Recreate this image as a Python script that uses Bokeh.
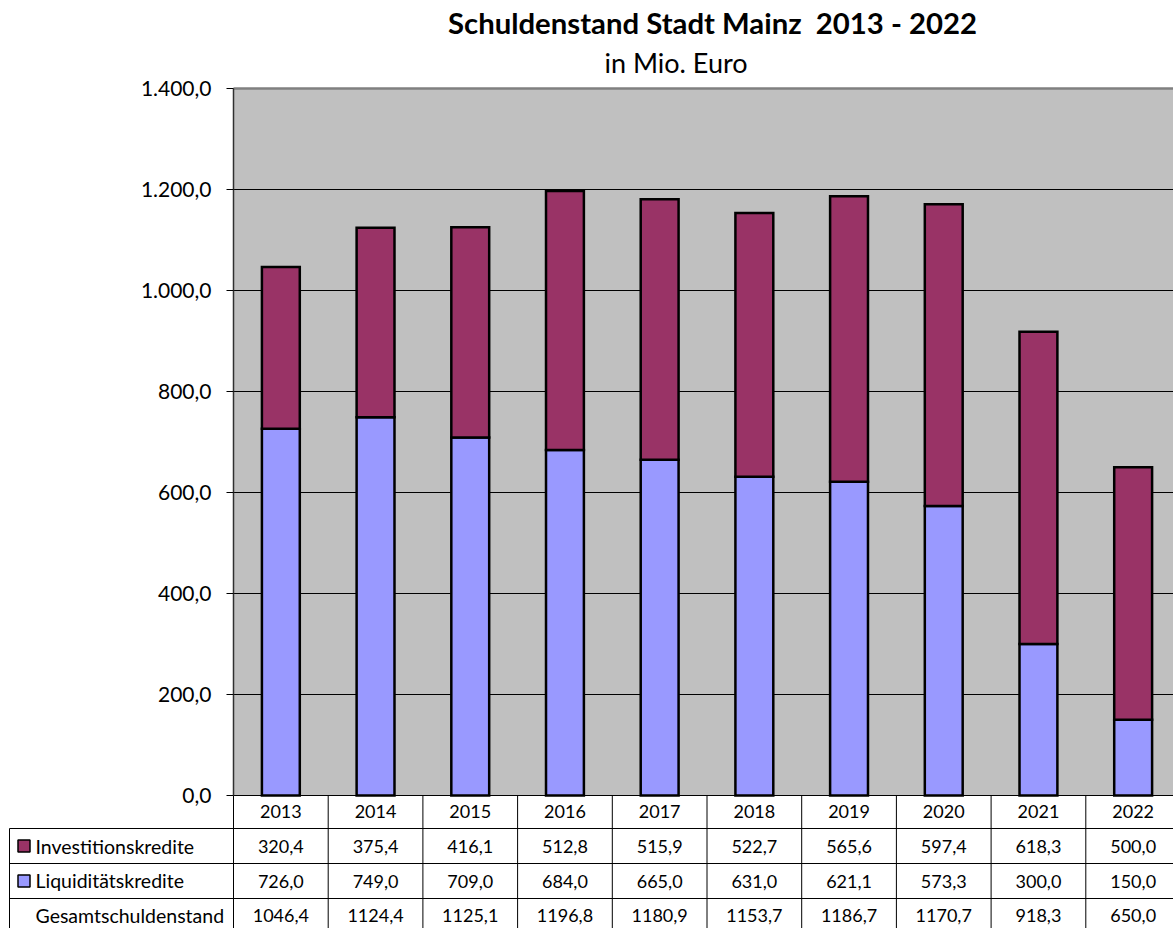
import numpy as np
from bokeh.plotting import figure
from bokeh.models import Range1d, LinearAxis, FixedTicker
from bokeh.core.properties import value
from bokeh.embed import file_html
from bokeh.resources import INLINE

# ---------------- data ----------------
years = ["2013", "2014", "2015", "2016", "2017", "2018", "2019", "2020", "2021", "2022"]
investitionskredite = [320.4, 375.4, 416.1, 512.8, 515.9, 522.7, 565.6, 597.4, 618.3, 500.0]
liquiditaetskredite = [726.0, 749.0, 709.0, 684.0, 665.0, 631.0, 621.1, 573.3, 300.0, 150.0]
gesamtschuldenstand = [1046.4, 1124.4, 1125.1, 1196.8, 1180.9, 1153.7, 1186.7, 1170.7, 918.3, 650.0]
y_ticks = [0, 200, 400, 600, 800, 1000, 1200, 1400]
row_labels = ["Investitionskredite", "Liquiditätskredite", "Gesamtschuldenstand"]
title_text = "Schuldenstand Stadt Mainz \u00a02013 - 2022"
subtitle_text = "in Mio. Euro"

C_INV = "#993366"
C_LIQ = "#9999FF"
FONT = "Lato"


def de(v, thousands=False):
    s = f"{v:,.1f}" if thousands else f"{v:.1f}"
    return s.replace(",", "X").replace(".", ",").replace("X", ".")


# ---------------- geometry (page pixels) ----------------
W, H, OFF = 1173, 928, 0
PLOT_L, PLOT_T, ZERO_Y = 233.0, 88.0, 795.0
COL_W = 94.7
PPU = (ZERO_Y - PLOT_T) / y_ticks[-1]
n = len(years)
idx = np.arange(n)


def X(px):
    return -0.5 + (px - PLOT_L) / COL_W


def Y(py):
    return (ZERO_Y - py) / PPU


def YB(py, size):
    # baseline position, corrected for the renderer's text placement
    return Y(py - 0.38 * size)


x_range = Range1d(X(OFF), X(OFF + W))
y_range = Range1d(Y(OFF + H), Y(OFF))

p = figure(width=W, height=H, x_range=x_range, y_range=y_range,
           output_backend="svg", toolbar_location=None,
           x_axis_location=None, y_axis_location=None,
           min_border=0, min_border_left=0, min_border_right=0,
           min_border_top=0, min_border_bottom=0)
p.outline_line_color = None
p.background_fill_color = "white"
p.border_fill_color = "white"
p.grid.visible = False

right_end = -0.5 + n

# plot area background
p.quad(left=-0.5, right=right_end, bottom=y_ticks[0], top=y_ticks[-1],
       fill_color="#C0C0C0", line_color=None)
# gridlines
p.segment(x0=[-0.5] * (len(y_ticks) - 2), x1=[right_end] * (len(y_ticks) - 2),
          y0=y_ticks[1:-1], y1=y_ticks[1:-1], line_color="black", line_width=1)
p.segment(x0=[-0.5], x1=[right_end], y0=[y_ticks[-1]], y1=[y_ticks[-1]],
          line_color="#808080", line_width=2.5)

# bars
liq = np.array(liquiditaetskredite)
inv = np.array(investitionskredite)
p.vbar(x=idx, width=0.4, bottom=0, top=liq, fill_color=C_LIQ,
       line_color="black", line_width=2.5, line_join="miter")
p.vbar(x=idx, width=0.4, bottom=liq, top=liq + inv, fill_color=C_INV,
       line_color="black", line_width=2.5, line_join="miter")

# y axis
yaxis = LinearAxis(fixed_location=-0.5, bounds=(y_ticks[0], y_ticks[-1]),
                   ticker=FixedTicker(ticks=y_ticks),
                   major_label_overrides={t: de(t, True) for t in y_ticks})
yaxis.major_tick_out = 7
yaxis.major_tick_in = 0
yaxis.minor_tick_out = 0
yaxis.minor_tick_in = 0
yaxis.axis_line_color = "#303030"
yaxis.axis_line_width = 1.5
yaxis.major_tick_line_color = "black"
yaxis.major_label_text_font = FONT
yaxis.major_label_text_font_size = "21px"
yaxis.major_label_text_color = "black"
yaxis.major_label_standoff = 15
p.add_layout(yaxis, "left")

# x axis (year row of table)
xaxis = LinearAxis(fixed_location=0, bounds=(-0.5, right_end),
                   ticker=FixedTicker(ticks=list(idx)),
                   major_label_overrides={int(i): y for i, y in zip(idx, years)})
xaxis.major_tick_out = 0
xaxis.major_tick_in = 0
xaxis.minor_tick_out = 0
xaxis.minor_tick_in = 0
xaxis.axis_line_color = "black"
xaxis.axis_line_width = 1
xaxis.major_label_text_font = FONT
xaxis.major_label_text_font_size = "18px"
xaxis.major_label_text_color = "black"
xaxis.major_label_standoff = 9
p.add_layout(xaxis, "below")

# table lines
row_lines = [Y(828), Y(863), Y(898)]
p.segment(x0=[X(9)] * 3, x1=[right_end] * 3, y0=row_lines, y1=row_lines,
          line_color="black", line_width=1)
col_x = [-0.5 + k for k in range(n)]
p.segment(x0=col_x, x1=col_x, y0=[0] * n, y1=[Y(OFF + H)] * n,
          line_color="black", line_width=1)
p.segment(x0=[X(9)], x1=[X(9)], y0=[Y(828)], y1=[Y(OFF + H)],
          line_color="black", line_width=1)

# table values
VAL_FS = 18
LAB_FS = 19.5
base_px = [853, 887.5, 922]
for vals, b in zip([investitionskredite, liquiditaetskredite, gesamtschuldenstand], base_px):
    p.text(x=idx, y=[YB(b, VAL_FS)] * n, text=[de(v) for v in vals],
           text_align="center", text_baseline="alphabetic",
           text_font=value(FONT), text_font_size=f"{VAL_FS}px", text_color="black")

# row labels
p.text(x=[X(35)] * 3, y=[YB(b, LAB_FS) for b in base_px], text=row_labels,
       text_align="left", text_baseline="alphabetic",
       text_font=value(FONT), text_font_size=f"{LAB_FS}px", text_color="black")
p.scatter(x=[X(23.5)] * 2, y=[Y(845.5), Y(880.5)], marker="square", size=12,
          fill_color=[C_INV, C_LIQ], line_color="black", line_width=1.5)

# titles
T_FS = 29.3
S_FS = 27
p.text(x=[X(712)], y=[YB(33.3, T_FS)], text=[title_text], text_align="center",
       text_baseline="alphabetic", text_font=value(FONT), text_font_size=f"{T_FS}px",
       text_font_style="bold", text_color="black")
p.text(x=[X(675.5)], y=[YB(72.7, S_FS)], text=[subtitle_text], text_align="center",
       text_baseline="alphabetic", text_font=value(FONT), text_font_size=f"{S_FS}px",
       text_color="black")

open("out.html", "w").write(file_html(p, INLINE))
